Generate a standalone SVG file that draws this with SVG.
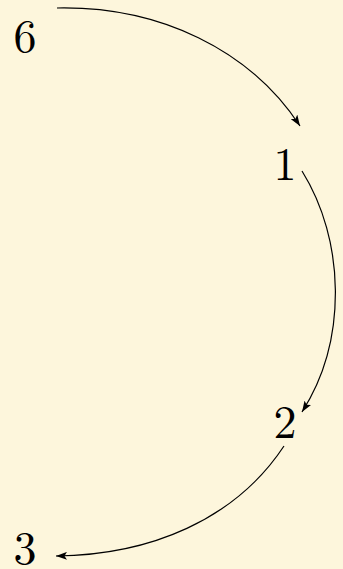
<svg xmlns="http://www.w3.org/2000/svg" width="343" height="569" viewBox="0 0 343 569">
<style>
.lbl{font-family:"Latin Modern Roman","DejaVu Serif","Liberation Serif",serif;font-size:46px;fill:#000}
.edge{fill:none;stroke:#000;stroke-width:1.2}
</style>
<defs>
<marker id="arr" viewBox="0 0 11 8" refX="11" refY="4" markerWidth="11" markerHeight="8" markerUnits="userSpaceOnUse" orient="auto">
<path d="M0,0 L11,4 L0,8 L2.5,4 Z" fill="#000"/>
</marker>
</defs>
<rect width="343" height="569" fill="#fdf6dc"/>
<g id="connectors">
<path class="edge" d="M57,8 C160,6 250,50 300,126" marker-end="url(#arr)"/>
<path class="edge" d="M302,171 C345,240 348,340 302,412" marker-end="url(#arr)"/>
<path class="edge" d="M284,446 C235,520 150,555 56,556" marker-end="url(#arr)"/>
</g>
<g id="n6"><text class="lbl" x="25" y="52" text-anchor="middle">6</text></g>
<g id="n1"><text class="lbl" x="285" y="180" text-anchor="middle">1</text></g>
<g id="n2"><text class="lbl" x="285" y="438" text-anchor="middle">2</text></g>
<g id="n3"><text class="lbl" x="25" y="564" text-anchor="middle">3</text></g>
</svg>
